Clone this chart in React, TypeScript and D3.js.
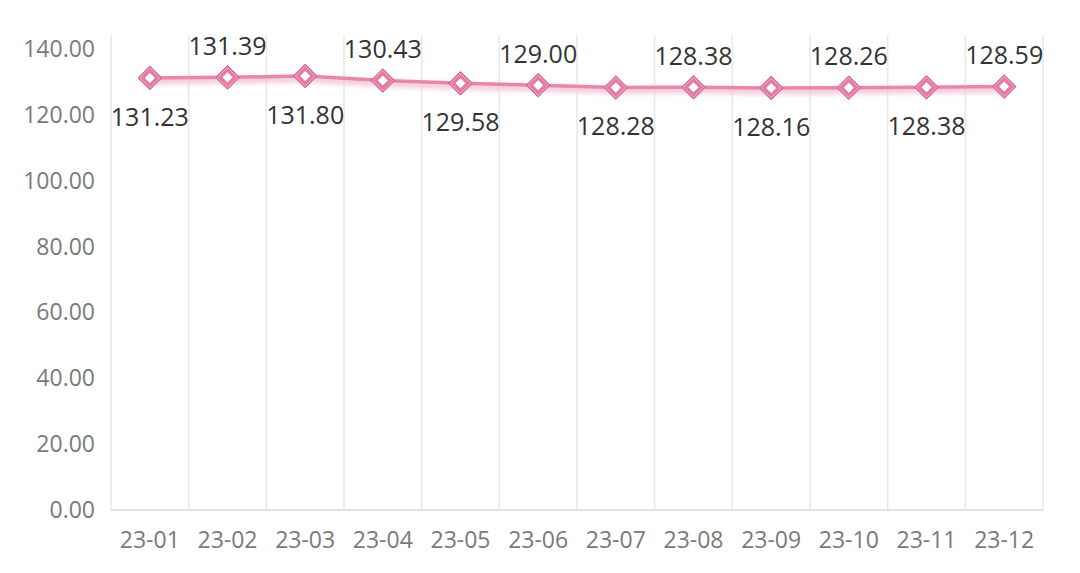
import { useEffect, useRef } from 'react'
import * as d3 from 'd3'

const months = ['23-01', '23-02', '23-03', '23-04', '23-05', '23-06', '23-07', '23-08', '23-09', '23-10', '23-11', '23-12']
const values = [131.23, 131.39, 131.8, 130.43, 129.58, 129.0, 128.28, 128.38, 128.16, 128.26, 128.38, 128.59]
const yTicks = [0, 20, 40, 60, 80, 100, 120, 140]

export default function App() {
  const svgRef = useRef<SVGSVGElement>(null)

  useEffect(() => {
    if (!svgRef.current) return
    const svg = d3.select(svgRef.current)
    svg.selectAll('*').remove()

    const width = 1080
    const height = 573
    const left = 111
    const right = 1043
    const top = 35
    const bottom = 510

    const x = d3.scaleBand<string>().domain(months).range([left, right])
    const y = d3.scaleLinear().domain([0, 140]).range([bottom, 49])
    const font = "'Open Sans', 'Noto Sans', sans-serif"

    svg.attr('width', width).attr('height', height)

    // vertical gridlines at category boundaries
    const bounds = months.map(m => x(m)!).concat([right])
    svg.append('g')
      .selectAll('line')
      .data(bounds)
      .join('line')
      .attr('x1', d => d).attr('x2', d => d)
      .attr('y1', top).attr('y2', bottom)
      .attr('stroke', '#e8e8e8')
      .attr('stroke-width', 1.5)

    // bottom axis line
    svg.append('line')
      .attr('x1', left).attr('x2', right)
      .attr('y1', bottom).attr('y2', bottom)
      .attr('stroke', '#d9d9d9')
      .attr('stroke-width', 1.5)

    // y tick labels
    svg.append('g')
      .selectAll('text')
      .data(yTicks)
      .join('text')
      .attr('x', 95)
      .attr('y', d => y(d))
      .attr('dy', '0.35em')
      .attr('text-anchor', 'end')
      .attr('font-family', font)
      .attr('font-size', 23)
      .attr('fill', '#7a7a7a')
      .text(d => d.toFixed(2))

    // x tick labels
    svg.append('g')
      .selectAll('text')
      .data(months)
      .join('text')
      .attr('x', d => x(d)! + x.bandwidth() / 2)
      .attr('y', 540)
      .attr('dy', '0.35em')
      .attr('text-anchor', 'middle')
      .attr('font-family', font)
      .attr('font-size', 23)
      .attr('fill', '#7a7a7a')
      .text(d => d)

    const cx = (i: number) => x(months[i])! + x.bandwidth() / 2

    const defs = svg.append('defs')
    const blur = defs.append('filter').attr('id', 'glow').attr('x', '-20%').attr('y', '-50%').attr('width', '140%').attr('height', '200%')
    blur.append('feGaussianBlur').attr('stdDeviation', 2.5)

    const line = d3.line<number>()
      .x((_, i) => cx(i))
      .y(d => y(d))

    // soft shadow under the line
    svg.append('path')
      .datum(values)
      .attr('d', line)
      .attr('transform', 'translate(0,3)')
      .attr('fill', 'none')
      .attr('stroke', '#f3c4d6')
      .attr('stroke-width', 6)
      .attr('filter', 'url(#glow)')

    svg.append('path')
      .datum(values)
      .attr('d', line)
      .attr('fill', 'none')
      .attr('stroke', '#e887ac')
      .attr('stroke-width', 3.5)

    // diamond markers
    const sym = d3.symbol().type(d3.symbolDiamond2)
    const markers = svg.append('g')
      .selectAll('g')
      .data(values)
      .join('g')
      .attr('transform', (d, i) => `translate(${cx(i)},${y(d)})`)
    markers.append('path')
      .attr('d', sym.size(360)())
      .attr('fill', '#e27aa3')
      .attr('stroke', '#c9668e')
      .attr('stroke-width', 1)
    markers.append('path')
      .attr('d', sym.size(250)())
      .attr('fill', 'none')
      .attr('stroke', '#f2aac6')
      .attr('stroke-width', 1)
    markers.append('path')
      .attr('d', sym.size(65)())
      .attr('fill', '#fff')

    // value labels, alternating below / above
    svg.append('g')
      .selectAll('text')
      .data(values)
      .join('text')
      .attr('x', (_, i) => cx(i))
      .attr('y', (d, i) => i % 2 === 0 ? y(d) + 39 : y(d) - 31)
      .attr('dy', '0.35em')
      .attr('text-anchor', 'middle')
      .attr('font-family', font)
      .attr('font-size', 25)
      .attr('fill', '#333')
      .text(d => d.toFixed(2))
  }, [])

  return <svg ref={svgRef} style={{ display: 'block', position: 'absolute', left: 0, top: 0 }} />
}
